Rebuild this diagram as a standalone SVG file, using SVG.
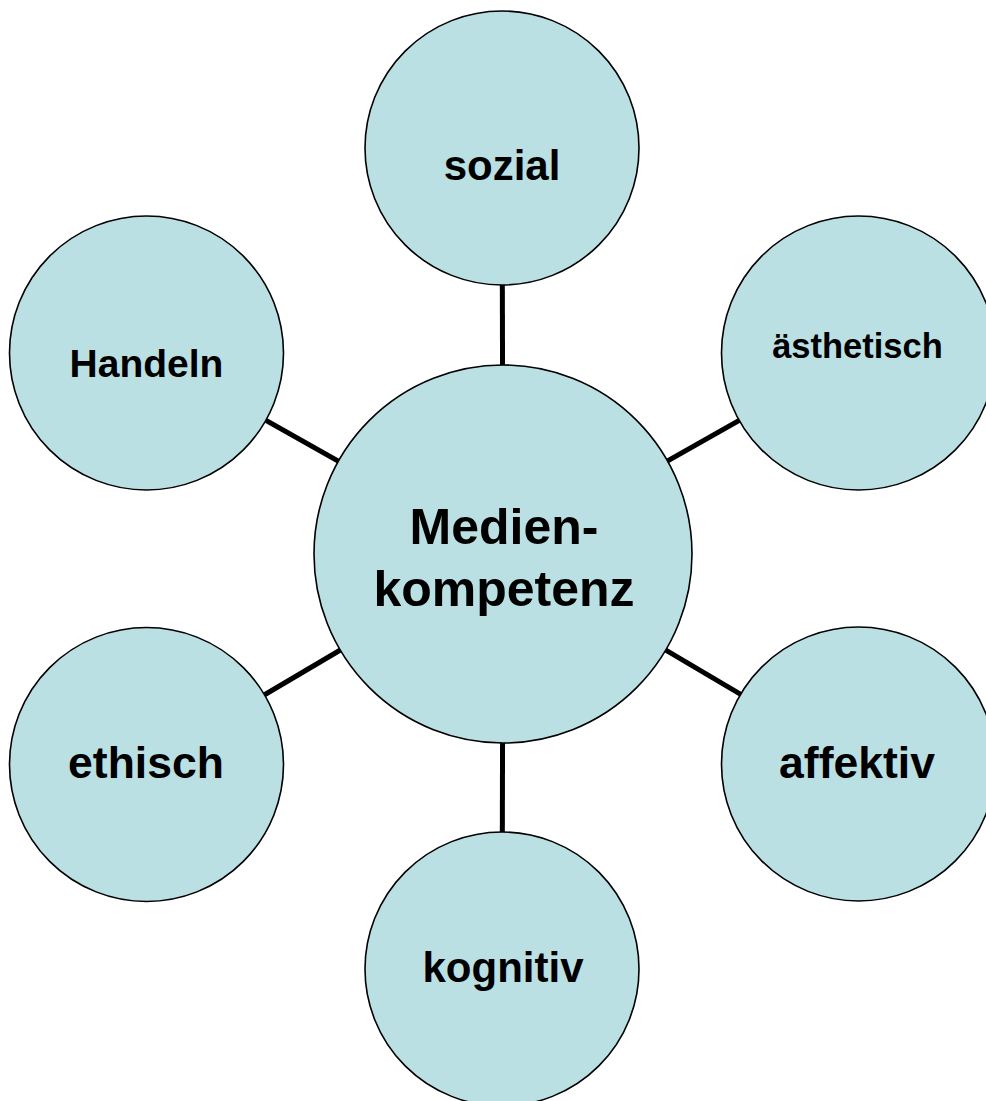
<svg xmlns="http://www.w3.org/2000/svg" width="986" height="1101" viewBox="0 0 986 1101">
<style>
.node{fill:#BBE0E3;stroke:#000;stroke-width:1.6}
.lbl{font-family:"Liberation Sans",Arial,sans-serif;font-weight:bold;fill:#000;text-anchor:middle}
.conn{stroke:#000;stroke-width:5;fill:none}
</style>
<rect width="986" height="1101" fill="#fff"/>
<g id="connectors">
<line class="conn" x1="503" y1="554" x2="502" y2="148"/>
<line class="conn" x1="503" y1="554" x2="146.5" y2="353"/>
<line class="conn" x1="503" y1="554" x2="858.5" y2="353"/>
<line class="conn" x1="503" y1="554" x2="146.5" y2="764.5"/>
<line class="conn" x1="503" y1="554" x2="858.5" y2="764"/>
<line class="conn" x1="503" y1="554" x2="502" y2="969"/>
</g>
<g id="sozial">
<circle class="node" cx="502" cy="148" r="137"/>
<text class="lbl" x="502" y="180" font-size="42">sozial</text>
</g>
<g id="handeln">
<circle class="node" cx="146.5" cy="353" r="137"/>
<text class="lbl" x="146.5" y="377" font-size="39">Handeln</text>
</g>
<g id="aesthetisch">
<circle class="node" cx="858.5" cy="353" r="137"/>
<text class="lbl" x="857.5" y="358" font-size="34.5">ästhetisch</text>
</g>
<g id="medienkompetenz">
<circle class="node" cx="503" cy="554" r="189"/>
<text class="lbl" x="504" y="544" font-size="50">Medien-</text>
<text class="lbl" x="504" y="606" font-size="50">kompetenz</text>
</g>
<g id="ethisch">
<circle class="node" cx="146.5" cy="764.5" r="137"/>
<text class="lbl" x="146" y="778" font-size="44.5">ethisch</text>
</g>
<g id="affektiv">
<circle class="node" cx="858.5" cy="764" r="137"/>
<text class="lbl" x="857" y="778" font-size="44.5">affektiv</text>
</g>
<g id="kognitiv">
<circle class="node" cx="502" cy="969" r="137"/>
<text class="lbl" x="503" y="982" font-size="42">kognitiv</text>
</g>
</svg>
